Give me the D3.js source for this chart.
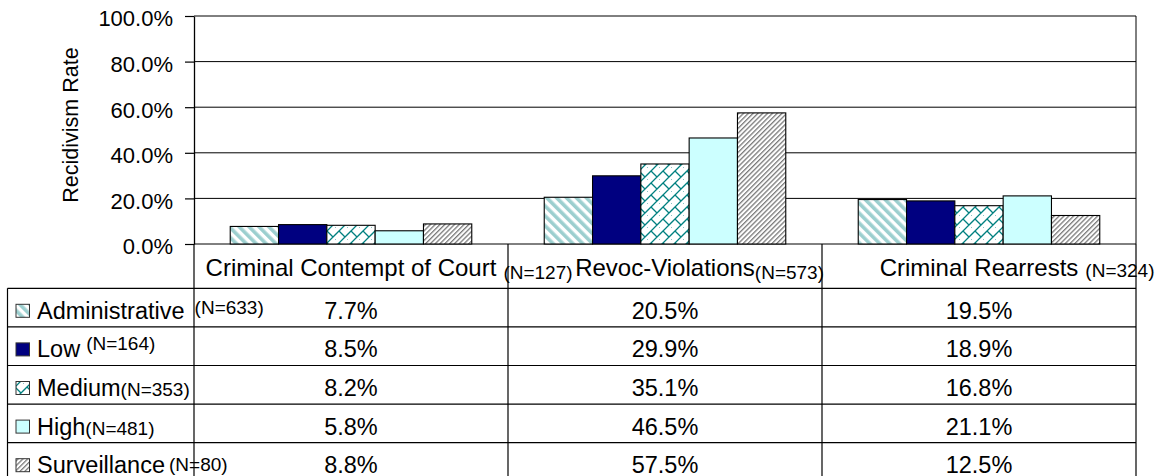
<!DOCTYPE html>
<meta charset="utf-8">
<script src="https://d3js.org/d3.v7.min.js"></script>
<style>
  body { margin: 0; background: #fff; }
  text { font-family: "Liberation Sans", Arial, sans-serif; fill: #000; }
</style>
<svg id="chart" width="1157" height="476"></svg>
<script>

// data
var categories = ["Criminal Contempt of Court", "Revoc-Violations", "Criminal Rearrests"];
var categoryN = ["(N=127)", "(N=573)", "(N=324)"];
var series = ["Administrative", "Low", "Medium", "High", "Surveillance"];
var seriesN = ["(N=633)", "(N=164)", "(N=353)", "(N=481)", "(N=80)"];
var administrative = [0.077, 0.205, 0.195];
var low = [0.085, 0.299, 0.189];
var medium = [0.082, 0.351, 0.168];
var high = [0.058, 0.465, 0.211];
var surveillance = [0.088, 0.575, 0.125];
var yTicks = [0, 0.2, 0.4, 0.6, 0.8, 1.0];
var values = [administrative, low, medium, high, surveillance];

var svg = d3.select("#chart"),
    width = +svg.attr("width"),
    height = +svg.attr("height");

// layout
var plotLeft = 194, plotRight = 1136, plotTop = 16, plotBottom = 244;
var headerBottom = 288.3, rowH = 38.6, tableLeft = 7.5;
var fontHead = 24, fontMain = 23.5, fontN = 19;

var x = d3.scaleBand().domain(categories).range([plotLeft, plotRight]);
var xs = d3.scaleBand().domain(series).range([0, x.bandwidth()]).paddingOuter(0.75);
var y = d3.scaleLinear().domain([0, 1]).range([plotBottom, plotTop]);
var row = d3.scaleBand().domain(series).range([headerBottom, headerBottom + rowH * series.length]);

// patterns
var defs = svg.append("defs");
var p1 = defs.append("pattern").attr("id", "pAdmin").attr("patternUnits", "userSpaceOnUse")
    .attr("width", 7).attr("height", 7).attr("patternTransform", "rotate(-45)");
p1.append("rect").attr("width", 7).attr("height", 7).attr("fill", "#fff");
p1.append("rect").attr("width", 3.6).attr("height", 7).attr("fill", "#9ccfcf");

var p3 = defs.append("pattern").attr("id", "pMedium").attr("patternUnits", "userSpaceOnUse")
    .attr("width", 12).attr("height", 12);
p3.append("rect").attr("width", 12).attr("height", 12).attr("fill", "#fff");
p3.append("path")
    .attr("d", "M-1,7 L7,-1 M-1,19 L19,-1 M11,13 L13,11 M3,3 L9,9")
    .attr("stroke", "#008080").attr("stroke-width", 1.3).attr("fill", "none");

var p5 = defs.append("pattern").attr("id", "pSurv").attr("patternUnits", "userSpaceOnUse")
    .attr("width", 3.4).attr("height", 3.4).attr("patternTransform", "rotate(45)");
p5.append("rect").attr("width", 3.4).attr("height", 3.4).attr("fill", "#fff");
p5.append("rect").attr("width", 1.3).attr("height", 3.4).attr("fill", "#7a7a7a");

var fills = ["url(#pAdmin)", "#000080", "url(#pMedium)", "#ccffff", "url(#pSurv)"];

// gridlines
svg.append("g")
  .selectAll("line")
  .data(yTicks)
  .enter()
  .append("line")
    .attr("x1", plotLeft).attr("x2", plotRight)
    .attr("y1", function(d){ return y(d) }).attr("y2", function(d){ return y(d) })
    .attr("stroke", "#000").attr("stroke-width", 1);

svg.append("line")
    .attr("x1", plotRight).attr("x2", plotRight)
    .attr("y1", plotTop).attr("y2", plotBottom)
    .attr("stroke", "#000");

// bars
series.forEach(function(s, i){
  svg.append("g")
    .selectAll("rect")
    .data(values[i])
    .enter()
    .append("rect")
      .attr("x", function(d, j){ return x(categories[j]) + xs(s) })
      .attr("y", function(d){ return y(d) })
      .attr("width", xs.bandwidth())
      .attr("height", function(d){ return y(0) - y(d) })
      .attr("fill", fills[i])
      .attr("stroke", "#000")
      .attr("stroke-width", 1.1);
});

// y axis
var axis = svg.append("g")
    .attr("transform", "translate(" + plotLeft + ",0)")
    .call(d3.axisLeft(y).tickValues(yTicks).tickFormat(d3.format(".1%"))
        .tickSize(9).tickSizeOuter(0).tickPadding(12));
axis.select(".domain").attr("stroke", "#000").attr("stroke-width", 1.3);
axis.selectAll(".tick line").attr("stroke", "#000").attr("stroke-width", 1.2);
axis.selectAll(".tick text")
    .attr("dy", "0.45em")
    .style("font-size", "22px")
    .style("font-family", "'Liberation Sans', Arial, sans-serif");

svg.append("text")
    .attr("transform", "translate(78," + 125 + ") rotate(-90)")
    .attr("text-anchor", "middle")
    .style("font-size", "21.5px")
    .text("Recidivism Rate");

// data table
var tableBottom = row.range()[1];
var lines = svg.append("g").attr("stroke", "#000").attr("stroke-width", 1.2);

lines.selectAll(".hline")
  .data(series)
  .enter()
  .append("line")
    .attr("x1", tableLeft).attr("x2", plotRight)
    .attr("y1", function(d){ return row(d) }).attr("y2", function(d){ return row(d) });
lines.append("line")
    .attr("x1", tableLeft).attr("x2", plotRight)
    .attr("y1", tableBottom).attr("y2", tableBottom);
lines.append("line")
    .attr("x1", tableLeft).attr("x2", tableLeft)
    .attr("y1", headerBottom).attr("y2", tableBottom);
lines.selectAll(".vline")
  .data(categories.concat(["end"]))
  .enter()
  .append("line")
    .attr("x1", function(d, j){ return plotLeft + j * x.step() })
    .attr("x2", function(d, j){ return plotLeft + j * x.step() })
    .attr("y1", plotBottom).attr("y2", tableBottom);

// header: category labels centered, N appended
var headGap = [7, 0, 7], headDrop = [3, 3, 1];
categories.forEach(function(c, j){
  var cx = x(c) + x.bandwidth() / 2;
  var t = svg.append("text")
      .attr("x", cx).attr("y", plotBottom + 32)
      .attr("text-anchor", "middle")
      .style("font-size", fontHead + "px")
      .text(c);
  var w = t.node().getComputedTextLength();
  svg.append("text")
      .attr("x", cx + w / 2 + headGap[j]).attr("y", plotBottom + 32 + headDrop[j])
      .style("font-size", fontN + "px")
      .text(categoryN[j]);
});

// rows: legend key, label, N, values
var nGap = [10, 6, 0, 0, 4], nRaise = [5, 7, 0, 0, 2];
series.forEach(function(s, i){
  var base = row(s) + 30.5;
  svg.append("rect")
      .attr("x", 16).attr("y", row(s) + 16)
      .attr("width", 13.5).attr("height", 13)
      .attr("fill", fills[i])
      .attr("stroke", "#333").attr("stroke-width", 1);
  var t = svg.append("text")
      .attr("x", 37).attr("y", base)
      .style("font-size", fontMain + "px")
      .text(s);
  var w = t.node().getComputedTextLength();
  svg.append("text")
      .attr("x", 37 + w + nGap[i]).attr("y", base - nRaise[i])
      .style("font-size", fontN + "px")
      .text(seriesN[i]);

  svg.append("g")
    .selectAll("text")
    .data(values[i])
    .enter()
    .append("text")
      .attr("x", function(d, j){ return x(categories[j]) + x.bandwidth() / 2 })
      .attr("y", base)
      .attr("text-anchor", "middle")
      .style("font-size", fontMain + "px")
      .text(function(d){ return d3.format(".1%")(d) });
});

</script>
